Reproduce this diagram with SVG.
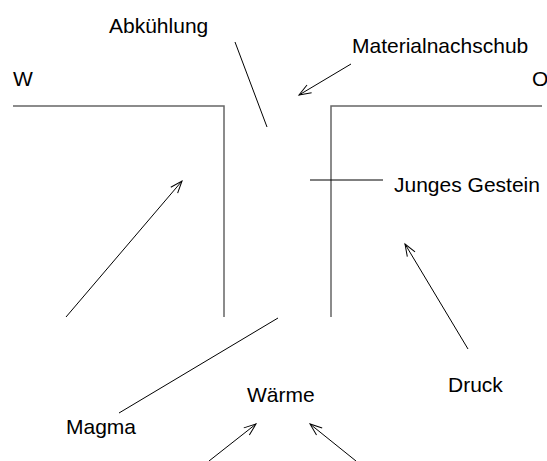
<svg xmlns="http://www.w3.org/2000/svg" width="547" height="461" viewBox="0 0 547 461">
<style>
text{font-family:"Liberation Sans",Arial,sans-serif;font-size:21px;fill:#000}
.wall{fill:none;stroke:#666;stroke-width:1.5}
.c{stroke:#000;stroke-width:1;fill:none}
</style>
<defs>
<marker id="ah" markerUnits="userSpaceOnUse" markerWidth="28" markerHeight="28" refX="14" refY="14" orient="auto" viewBox="0 0 28 28" overflow="visible">
<path d="M2,9.5 L14,14 L2,18.5" fill="none" stroke="#000" stroke-width="1"/>
</marker>
</defs>
<rect width="547" height="461" fill="#fff"/>
<g id="walls">
<polyline class="wall" points="13,106 224,106 224,317"/>
<polyline class="wall" points="542,106 331,106 331,317"/>
</g>
<g id="connectors">
<line class="c" x1="235" y1="42" x2="267" y2="127"/>
<line class="c" x1="351" y1="64" x2="299" y2="95" marker-end="url(#ah)"/>
<line class="c" x1="310" y1="180" x2="383" y2="180"/>
<line class="c" x1="66" y1="317" x2="182" y2="181" marker-end="url(#ah)"/>
<line class="c" x1="468" y1="349" x2="405" y2="244" marker-end="url(#ah)"/>
<line class="c" x1="278" y1="318" x2="119" y2="413"/>
<line class="c" x1="209" y1="461" x2="256" y2="424" marker-end="url(#ah)"/>
<line class="c" x1="356" y1="461" x2="310" y2="424" marker-end="url(#ah)"/>
</g>
<g id="W"><text x="13" y="86">W</text></g>
<g id="O"><text x="532" y="86">O</text></g>
<g id="Abkuehlung"><text x="109" y="33">Abkühlung</text></g>
<g id="Materialnachschub"><text x="352" y="53">Materialnachschub</text></g>
<g id="JungesGestein"><text x="394" y="192">Junges Gestein</text></g>
<g id="Druck"><text x="448" y="392">Druck</text></g>
<g id="Waerme"><text x="247" y="402">Wärme</text></g>
<g id="Magma"><text x="66" y="434">Magma</text></g>
</svg>
